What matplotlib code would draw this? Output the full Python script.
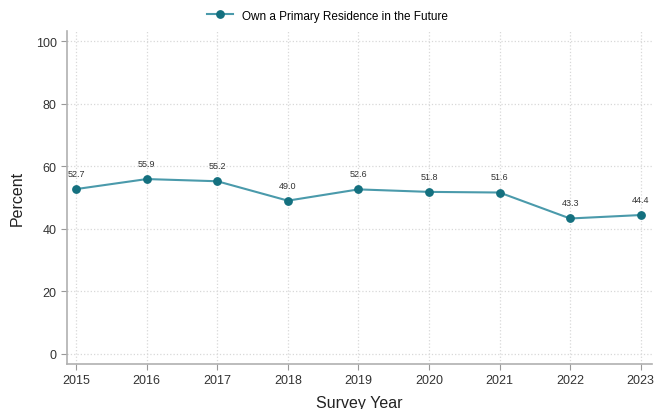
import matplotlib.pyplot as plt

plt.rcParams['font.family'] = ['Liberation Sans', 'DejaVu Sans']

years = [2015, 2016, 2017, 2018, 2019, 2020, 2021, 2022, 2023]
values = [52.7, 55.9, 55.2, 49.0, 52.6, 51.8, 51.6, 43.3, 44.4]
series_label = "Own a Primary Residence in the Future"

line_color = '#4a9aab'
marker_color = '#14707f'

fig = plt.figure(figsize=(6.55, 4.1), dpi=100)
ax = fig.add_axes([0.1023, 0.1098, 0.893, 0.812])

ax.plot(years, values, color=line_color, linewidth=1.5, marker='o', markersize=5.3,
        markerfacecolor=marker_color, markeredgecolor=marker_color, label=series_label)

for x, v in zip(years, values):
    ax.annotate(f"{v:.1f}", (x, v), xytext=(0, 8), textcoords='offset points',
                ha='center', va='bottom', fontsize=6.5, color='#333333')

ax.set_xlim(2014.87, 2023.16)
ax.set_ylim(-3.2, 103.2)
ax.set_xticks(years)
ax.set_yticks([0, 20, 40, 60, 80, 100])
ax.tick_params(axis='both', labelsize=9, colors='#333333', length=4, color='#999999')
ax.grid(True, linestyle=':', color='#d8d8d8', linewidth=0.9)
ax.set_axisbelow(True)

for side in ['top', 'right']:
    ax.spines[side].set_visible(False)
for side in ['left', 'bottom']:
    ax.spines[side].set_color('#b0b0b0')
    ax.spines[side].set_linewidth(1.2)

ax.set_xlabel("Survey Year", fontsize=11.5, color='#222222', labelpad=6)
ax.set_ylabel("Percent", fontsize=11.5, color='#222222', labelpad=8)

fig.legend(loc='upper center', bbox_to_anchor=(0.5, 1.0), frameon=False, fontsize=8.5,
           handlelength=2.2)

fig.savefig('out.png', dpi=100)
